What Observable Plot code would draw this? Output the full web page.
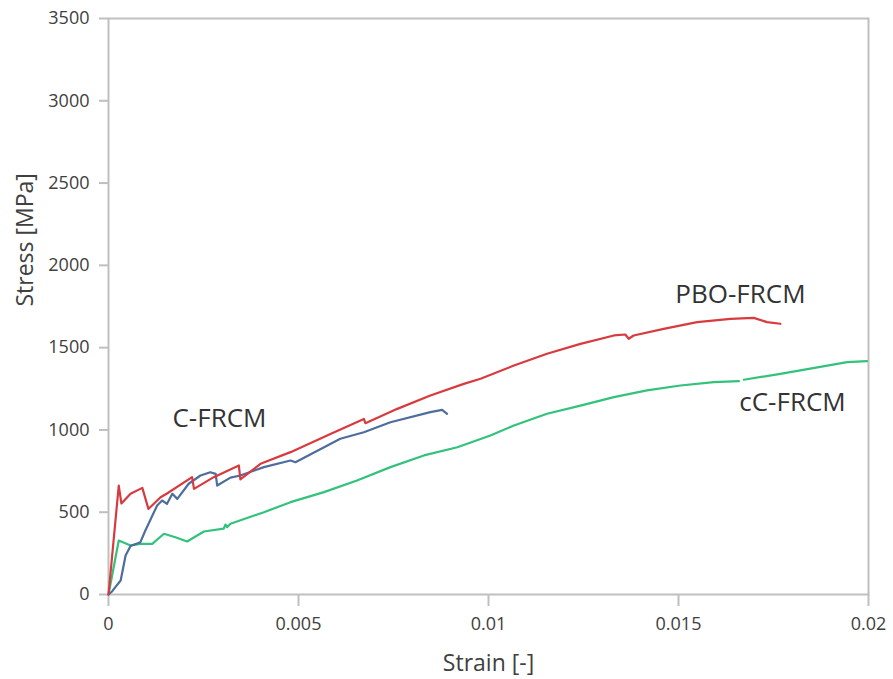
<!DOCTYPE html>
<html>
<head>
<meta charset="utf-8">
<script src="https://cdn.jsdelivr.net/npm/d3@7"></script>
<script src="https://cdn.jsdelivr.net/npm/@observablehq/plot@0.6"></script>
<style>
  html, body { margin: 0; padding: 0; background: #fff; }
  #chart { width: 893px; height: 679px; }
</style>
</head>
<body>
<div id="chart"></div>
<script>
// ---- data ----
const xTicks = [0, 0.005, 0.01, 0.015, 0.02];
const yTicks = [0, 500, 1000, 1500, 2000, 2500, 3000, 3500];

const redStrain = [0, 0.00027, 0.00034, 0.00058, 0.00089, 0.00105, 0.00137, 0.00154, 0.0022, 0.00225, 0.00277, 0.00343, 0.00347, 0.004, 0.00479, 0.00584, 0.00672, 0.00676, 0.0076, 0.00847, 0.00935, 0.00979, 0.01067, 0.01154, 0.01242, 0.0133, 0.0136, 0.01369, 0.01382, 0.01461, 0.01549, 0.01637, 0.01698, 0.01733, 0.01768];
const redStress = [0, 662, 553, 612, 648, 520, 591, 614, 713, 642, 713, 784, 700, 794, 865, 976, 1067, 1041, 1128, 1209, 1280, 1311, 1391, 1463, 1523, 1574, 1580, 1554, 1574, 1614, 1655, 1675, 1681, 1655, 1645];

const blueStrain = [0, 0.0001, 0.00018, 0.00032, 0.00045, 0.00058, 0.00084, 0.00097, 0.00128, 0.00141, 0.00154, 0.00168, 0.00181, 0.00211, 0.00242, 0.00268, 0.00282, 0.00286, 0.00321, 0.00347, 0.00409, 0.00479, 0.00492, 0.0061, 0.00672, 0.00742, 0.00847, 0.00878, 0.00891];
const blueStress = [0, 20, 45, 85, 237, 295, 318, 389, 541, 571, 551, 612, 581, 673, 723, 743, 733, 662, 710, 723, 774, 814, 804, 946, 986, 1047, 1108, 1122, 1098];

const greenStrain = [0, 0.00027, 0.00058, 0.00084, 0.00115, 0.00146, 0.00176, 0.00207, 0.00251, 0.00303, 0.00308, 0.00312, 0.00321, 0.00409, 0.00479, 0.00567, 0.00654, 0.00742, 0.0083, 0.00918, 0.01005, 0.01067, 0.01154, 0.01242, 0.0133, 0.01417, 0.01505, 0.01593, 0.01659, NaN, 0.01672, 0.01768, 0.01944, 0.01996];
const greenStress = [0, 328, 298, 308, 308, 369, 348, 322, 383, 400, 425, 409, 430, 500, 561, 622, 693, 774, 845, 895, 966, 1027, 1098, 1148, 1199, 1240, 1270, 1290, 1296, NaN, 1305, 1341, 1412, 1418];

const labelText = ["C-FRCM", "PBO-FRCM", "cC-FRCM"];
const labelStrain = [0.00292, 0.01663, 0.0180];
const labelStress = [1015, 1774, 1118];

// ---- build tables ----
const toRows = (xs, ys) => xs.map((x, i) => ({strain: x, stress: ys[i]}));
const red = toRows(redStrain, redStress);
const blue = toRows(blueStrain, blueStress);
const green = toRows(greenStrain, greenStress);
const labels = labelText.map((t, i) => ({text: t, strain: labelStrain[i], stress: labelStress[i]}));

const font = "'Open Sans', 'Liberation Sans', sans-serif";
const textColor = "#404040";
const axisColor = "#bfbfbf";

const chart = Plot.plot({
  width: 893,
  height: 679,
  marginLeft: 108,
  marginRight: 25,
  marginTop: 18,
  marginBottom: 85,
  style: {fontFamily: font, fontSize: "18px", color: textColor, background: "#fff"},
  x: {domain: [0, 0.02], ticks: xTicks},
  y: {domain: [0, 3500], ticks: yTicks},
  marks: [
    Plot.frame({stroke: axisColor, strokeWidth: 2}),
    Plot.axisX(xTicks, {tickSize: 12, tickPadding: 11, stroke: axisColor, strokeWidth: 2, fill: textColor, fontSize: 18, tickFormat: d => String(d), label: null}),
    Plot.axisY(yTicks, {tickSize: 9, tickPadding: 10, stroke: axisColor, strokeWidth: 2, fill: textColor, fontSize: 18, tickFormat: d => String(d), label: null}),
    Plot.text(["Strain [-]"], {frameAnchor: "bottom", dy: 76, lineAnchor: "bottom", fontSize: 23, fill: textColor, fontFamily: font}),
    Plot.text(["Stress [MPa]"], {frameAnchor: "left", dx: -83, rotate: -90, lineAnchor: "middle", fontSize: 23, fill: textColor, fontFamily: font}),
    Plot.line(green, {x: "strain", y: "stress", stroke: "#33c27c", strokeWidth: 2.2}),
    Plot.line(blue, {x: "strain", y: "stress", stroke: "#4d6d9e", strokeWidth: 2.2}),
    Plot.line(red, {x: "strain", y: "stress", stroke: "#d83a3e", strokeWidth: 2.2}),
    Plot.text(labels, {x: "strain", y: "stress", text: "text", lineAnchor: "bottom", fontSize: 26, fill: "#333", fontFamily: font})
  ]
});
document.getElementById("chart").appendChild(chart);
</script>
</body>
</html>
